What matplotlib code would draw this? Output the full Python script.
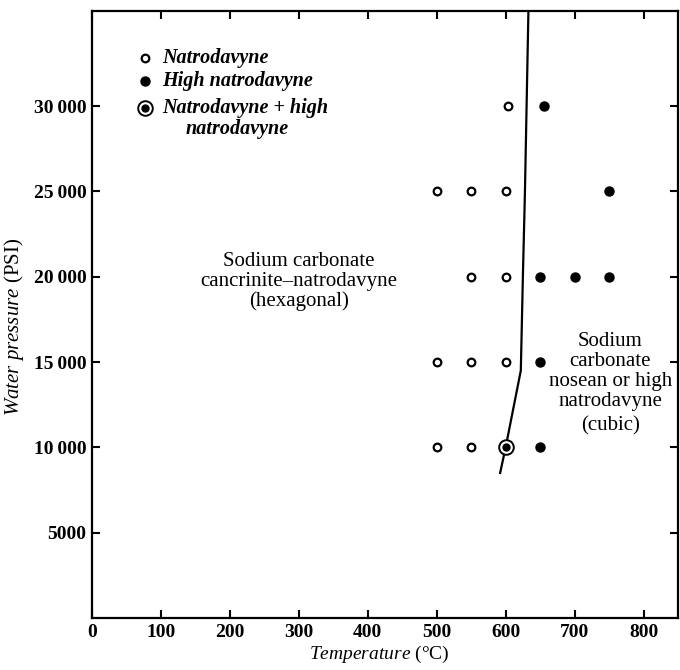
import matplotlib
matplotlib.use("Agg")
import matplotlib.pyplot as plt

plt.rcParams['font.family'] = ['Liberation Serif', 'DejaVu Serif']
plt.rcParams['mathtext.fontset'] = 'custom'
plt.rcParams['mathtext.rm'] = 'Liberation Serif'
plt.rcParams['mathtext.it'] = 'Liberation Serif:italic'
plt.rcParams['mathtext.bf'] = 'Liberation Serif:bold'

# ---- data ----
natro_temp = [603, 500, 550, 600, 550, 600, 500, 550, 600, 500, 550]
natro_press = [30000, 25000, 25000, 25000, 20000, 20000, 15000, 15000, 15000, 10000, 10000]
high_temp = [655, 750, 650, 700, 750, 650, 650]
high_press = [30000, 25000, 20000, 20000, 20000, 15000, 10000]
both_temp = [600]
both_press = [10000]
boundary_temp = [633, 628, 625, 622, 600, 592]
boundary_press = [35500, 25000, 20000, 14500, 10000, 8500]

xticks = [0, 100, 200, 300, 400, 500, 600, 700, 800]
yticks = [5000, 10000, 15000, 20000, 25000, 30000]
ytick_labels = ['5000', '10\u2009000', '15\u2009000', '20\u2009000', '25\u2009000', '30\u2009000']

fig = plt.figure(figsize=(6.8, 6.7), dpi=100)
ax = fig.add_axes([92 / 680, 52 / 670, 586 / 680, 607 / 670])

ax.plot(boundary_temp, boundary_press, color='black', lw=1.6, zorder=2)
ax.plot(natro_temp, natro_press, 'o', ls='none', ms=5.5, mfc='white', mec='black', mew=1.6, zorder=3)
ax.plot(high_temp, high_press, 'o', ls='none', ms=6.5, mfc='black', mec='black', zorder=3)
ax.plot(both_temp, both_press, 'o', ls='none', ms=10.5, mfc='white', mec='black', mew=1.4, zorder=3)
ax.plot(both_temp, both_press, 'o', ls='none', ms=5, mfc='black', mec='black', zorder=4)

ax.set_xlim(0, 850)
ax.set_ylim(0, 35570)
ax.set_xticks(xticks)
ax.set_xticklabels([str(v) for v in xticks], fontsize=14, fontweight='bold')
ax.set_yticks(yticks)
ax.set_yticklabels(ytick_labels, fontsize=14, fontweight='bold')
ax.tick_params(direction='in', length=6, width=1.5, top=True, right=True, pad=4)
for s in ax.spines.values():
    s.set_linewidth(1.6)

ax.set_xlabel(r'$\mathit{Temperature}$ (°C)', fontsize=14)
ax.xaxis.set_label_coords(0.49, -0.042)
ax.set_ylabel(r'$\mathit{Water\ pressure}$ (PSI)', fontsize=15)
ax.yaxis.set_label_coords(-0.113, 0.48)

# region labels
ax.text(300, 19700, 'Sodium carbonate\ncancrinite\u2013natrodavyne\n(hexagonal)',
        ha='center', va='center', fontsize=15, linespacing=1.05)
ax.text(752, 14440, 'Sodium\ncarbonate\nnosean or high\nnatrodavyne',
        ha='center', va='center', fontsize=15, linespacing=1.08)
ax.text(752, 11250, '(cubic)', ha='center', va='center', fontsize=15)

# legend keys
kx, tx = 0.090, 0.119
ax.plot([kx], [0.9226], 'o', transform=ax.transAxes, ms=5.5, mfc='white', mec='black', mew=1.6, clip_on=False)
ax.plot([kx], [0.8847], 'o', transform=ax.transAxes, ms=6.5, mfc='black', mec='black', clip_on=False)
ax.plot([kx], [0.840], 'o', transform=ax.transAxes, ms=10.5, mfc='white', mec='black', mew=1.4, clip_on=False)
ax.plot([kx], [0.840], 'o', transform=ax.transAxes, ms=5, mfc='black', mec='black', clip_on=False)
lab_kw = dict(transform=ax.transAxes, fontsize=14.5, style='italic', fontweight='bold', va='center', ha='left')
ax.text(tx, 0.9226, 'Natrodavyne', **lab_kw)
ax.text(tx, 0.8847, 'High natrodavyne', **lab_kw)
ax.text(tx, 0.840, 'Natrodavyne + high', **lab_kw)
ax.text(0.159, 0.805, 'natrodavyne', **lab_kw)

fig.savefig('out.png', dpi=100)
